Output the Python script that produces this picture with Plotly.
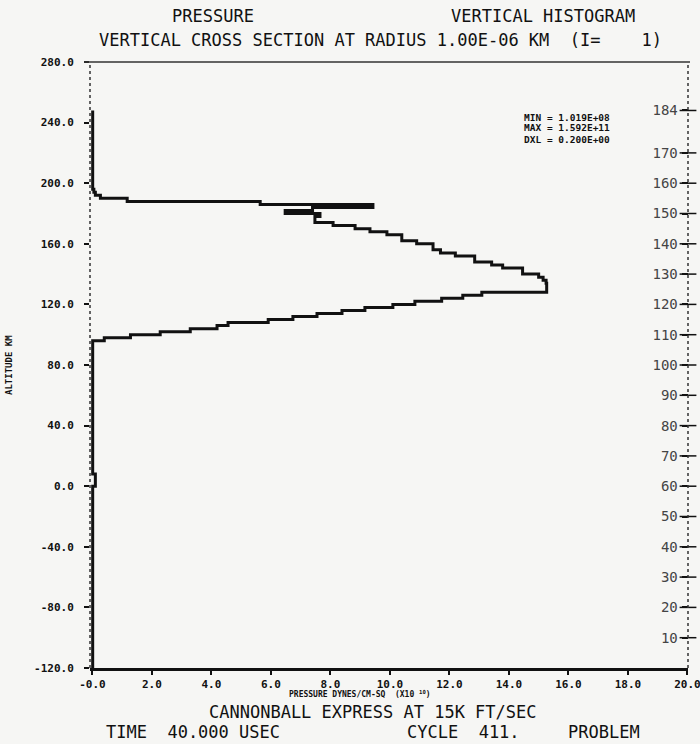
import plotly.graph_objects as go

# ---- mesh: 184 altitude cells, 2 km each, starting at -120 km ----
ALT_BOTTOM = -120.0
DZ = 2.0
N_CELLS = 184

# ---- pressure per cell (dynes/cm^2, in units of 1e10) ----
P_MIN = 0.0102  # MIN = 1.019E+08

p_bump = [0.10, 0.10, 0.10, 0.10]          # cells 60-63 (0 to 8 km)
p_shock = [                                 # cells 108-157
    0.40, 1.28, 2.28, 3.29, 4.19, 4.56, 5.91, 6.74,
    7.55, 8.39, 9.16, 10.10, 10.84, 11.74, 12.45, 13.09,
    15.27, 15.27, 15.27, 15.25, 15.15, 15.00,
    14.46, 14.46, 13.79, 13.42, 12.85, 12.85, 12.20, 11.70,
    11.45, 11.45, 10.90, 10.40, 10.40, 9.90, 9.33, 8.83,
    8.09, 7.48,
    7.48, 7.65, 6.48, 7.40, 9.43, 5.64, 1.17, 0.27, 0.10, 0.05,
]
pressure = [P_MIN] * 60 + p_bump + [P_MIN] * 44 + p_shock + [P_MIN] * 26

alt_edges = [ALT_BOTTOM + DZ * k for k in range(N_CELLS + 1)]

# ---- axis ticks ----
x_ticks = [0, 2, 4, 6, 8, 10, 12, 14, 16, 18, 20]
x_labels = ["-0.0", "2.0", "4.0", "6.0", "8.0", "10.0", "12.0", "14.0", "16.0", "18.0", "20.0"]
y_ticks = [-120, -80, -40, 0, 40, 80, 120, 160, 200, 240, 280]
y_labels = ["-120.0", "-80.0", "-40.0", "0.0", "40.0", "80.0", "120.0", "160.0", "200.0", "240.0", "280.0"]
cell_ticks = [10, 20, 30, 40, 50, 60, 70, 80, 90, 100, 110, 120, 130, 140, 150, 160, 170, 184]

stats = ["MIN = 1.019E+08", "MAX = 1.592E+11", "DXL = 0.200E+00"]

MONO = "DejaVu Sans Mono"
INK = "#111111"

# ---- page geometry ----
W, H = 700, 744
ML, MR, MT, MB = 90, 12, 62, 76
PW, PH = W - ML - MR, H - MT - MB
X_RANGE = [-0.08, 20.02]


def px(xp):
    return (xp - ML) / PW


def py(yp):
    return 1 - (yp - MT) / PH


fig = go.Figure()

# vertical histogram: one vertical run per cell, horizontal jumps at the cell edges
fig.add_trace(go.Scatter(
    x=pressure + [pressure[-1]],
    y=alt_edges,
    mode="lines",
    line=dict(color=INK, width=3, shape="vh"),
    hoverinfo="skip",
    showlegend=False,
))

# cell-index scale on the right: cross-shaped tick marks on the frame line
fig.add_trace(go.Scatter(
    x=[X_RANGE[1]] * len(cell_ticks),
    y=cell_ticks,
    yaxis="y2",
    mode="markers",
    marker=dict(symbol="line-ew", size=12, line=dict(color=INK, width=1.5)),
    cliponaxis=False,
    hoverinfo="skip",
    showlegend=False,
))

fig.update_layout(
    width=W, height=H,
    margin=dict(l=ML, r=MR, t=MT, b=MB, autoexpand=False),
    paper_bgcolor="#f6f6f4",
    plot_bgcolor="#f6f6f4",
    font=dict(family=MONO, color=INK),
    xaxis=dict(
        range=X_RANGE, automargin=False,
        tickvals=x_ticks, ticktext=x_labels,
        ticks="outside", ticklen=4, tickwidth=1.5, tickcolor=INK,
        ticklabeloverflow="allow",
        tickfont=dict(family=MONO, size=11, weight="bold"),
        showline=True, linewidth=3, linecolor=INK,
        showgrid=False, zeroline=False,
    ),
    yaxis=dict(
        range=[-120, 280], automargin=False,
        tickvals=y_ticks, ticktext=y_labels,
        ticks="outside", ticklen=5, tickwidth=1.5, tickcolor=INK,
        ticklabelstandoff=8,
        tickfont=dict(family=MONO, size=11, weight="bold"),
        showline=False, showgrid=False, zeroline=False,
    ),
    yaxis2=dict(
        overlaying="y", side="right", automargin=False,
        range=[(-120 - ALT_BOTTOM) / DZ, (280 - ALT_BOTTOM) / DZ],
        tickvals=cell_ticks,
        ticks="inside", ticklen=6, tickwidth=1.5, tickcolor=INK,
        ticklabelposition="inside", ticklabelstandoff=4,
        ticklabeloverflow="allow",
        tickfont=dict(family=MONO, size=14),
        showline=False, showgrid=False, zeroline=False,
    ),
    shapes=[
        dict(type="line", xref="paper", yref="paper", x0=0, x1=0, y0=0, y1=1,
             line=dict(color="#333333", width=1.5, dash="dot")),
        dict(type="line", xref="paper", yref="paper", x0=1, x1=1, y0=0, y1=1,
             line=dict(color="#333333", width=1.5, dash="dot")),
        dict(type="line", xref="paper", yref="paper", x0=px(84), x1=px(690), y0=1, y1=1,
             line=dict(color="#333333", width=1.5)),
    ],
)

ann = []


def text(s, xp, yp, size=17, anchor="center", bold=False, angle=0):
    ann.append(dict(
        text=s, x=px(xp), y=py(yp), xref="paper", yref="paper",
        xanchor=anchor, yanchor="middle", showarrow=False, textangle=angle,
        font=dict(family=MONO, size=size, color=INK, weight="bold" if bold else "normal"),
    ))


text("PRESSURE", 213, 16)
text("VERTICAL HISTOGRAM", 543, 16)
text("VERTICAL CROSS SECTION AT RADIUS 1.00E-06 KM  (I=    1)", 97, 40, anchor="left")
text("ALTITUDE KM", 9, 365, size=9, bold=True, angle=-90)
text("PRESSURE DYNES/CM-SQ  (X10 <sup>10</sup>)", 360, 694, size=8, bold=True)
text("CANNONBALL EXPRESS AT 15K FT/SEC", 373, 712)
text("TIME  40.000 USEC", 104, 732, anchor="left")
text("CYCLE  411.", 405, 732, anchor="left")
text("PROBLEM", 566, 732, anchor="left")
for i, s in enumerate(stats):
    text(s, 522, 117 + 11 * i, size=9.5, anchor="left", bold=True)

fig.update_layout(annotations=ann)

fig.write_html("out.html")
